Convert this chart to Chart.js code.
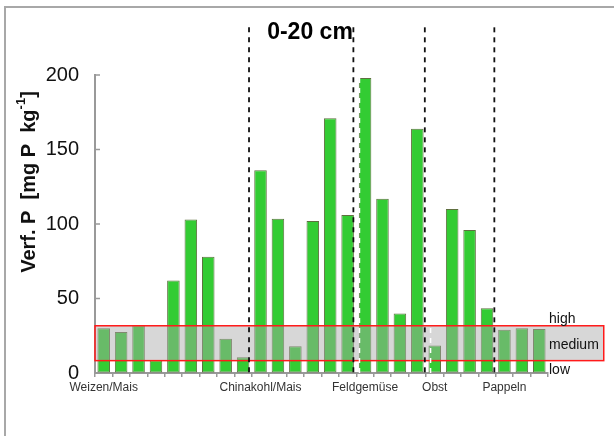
<!DOCTYPE html>
<html>
<head>
<meta charset="utf-8">
<script src="https://cdn.jsdelivr.net/npm/chart.js@4/dist/chart.umd.min.js"></script>
<style>
  html, body { margin: 0; padding: 0; background: #fff; }
  #wrap { width: 614px; height: 436px; position: relative; }
</style>
</head>
<body>
<div id="wrap"><canvas id="pChart" width="614" height="436"></canvas></div>
<script>
// group label sits under the first bar of each group
const categories = [
  'Weizen/Mais', '', '', '', '', '', '', '', '',
  'Chinakohl/Mais', '', '', '', '', '',
  'Feldgemüse', '', '', '',
  'Obst', '', '', '',
  'Pappeln', '', ''
];
const pValues = [
  30, 27.5, 32, 8.5, 62, 103, 78, 23, 10.5,
  136, 103.5, 18, 102, 171, 106,
  198, 117, 40, 164,
  18.5, 110, 96, 43.5,
  29, 30, 29.5
];
const yTicks = [0, 50, 100, 150, 200];

// medium range band (mg P / kg)
const bandLow = 8.3;
const bandHigh = 31.7;
const bandLabels = [
  { text: 'high', value: 36 },
  { text: 'medium', value: 18.5 },
  { text: 'low', value: 2 }
];

// group separators, in category index units
const dividers = [8.34, 14.33, 18.43, 22.42];
const whiteDividers = [14.68, 18.76];

const FONT = '"Liberation Sans", Arial, sans-serif';

const decorPlugin = {
  id: 'decor',
  beforeDraw(chart) {
    const c = chart.ctx;
    c.save();
    c.strokeStyle = '#a8a8a8';
    c.lineWidth = 2;
    c.beginPath();
    c.moveTo(5, 436);
    c.lineTo(5, 7);
    c.lineTo(614, 7);
    c.stroke();
    c.restore();
  },
  afterDatasetsDraw(chart) {
    const c = chart.ctx;
    const x = chart.scales.x;
    const y = chart.scales.y;
    const area = chart.chartArea;

    // medium band
    const top = y.getPixelForValue(bandHigh);
    const bot = y.getPixelForValue(bandLow);
    const right = x.getPixelForValue(28.7);
    c.save();
    c.fillStyle = 'rgba(168,168,168,0.46)';
    c.fillRect(area.left, top, right - area.left, bot - top);
    c.strokeStyle = '#ff1a1a';
    c.lineWidth = 1.5;
    c.strokeRect(area.left, top, right - area.left, bot - top);

    // band labels
    c.fillStyle = '#111';
    c.font = '14px ' + FONT;
    c.textAlign = 'left';
    c.textBaseline = 'middle';
    bandLabels.forEach(b => c.fillText(b.text, area.right + 1, y.getPixelForValue(b.value)));

    // white dashes over bars
    c.setLineDash([5, 5]);
    c.strokeStyle = '#ffffff';
    c.lineWidth = 1.5;
    whiteDividers.forEach(v => {
      const px = x.getPixelForValue(v);
      c.beginPath();
      c.moveTo(px, y.getPixelForValue(198));
      c.lineTo(px, area.bottom);
      c.stroke();
    });

    // black dashed separators
    c.strokeStyle = '#111';
    c.lineWidth = 1.8;
    dividers.forEach(v => {
      const px = x.getPixelForValue(v);
      c.beginPath();
      c.moveTo(px, y.getPixelForValue(232));
      c.lineTo(px, area.bottom);
      c.stroke();
    });
    c.setLineDash([]);

    // y ticks pointing inwards
    c.strokeStyle = '#999';
    c.lineWidth = 1.5;
    yTicks.forEach(t => {
      const py = y.getPixelForValue(t);
      c.beginPath();
      c.moveTo(area.left, py);
      c.lineTo(area.left + 5, py);
      c.stroke();
    });

    // title
    c.fillStyle = '#000';
    c.font = 'bold 23px ' + FONT;
    c.textAlign = 'center';
    c.textBaseline = 'middle';
    c.fillText('0-20 cm', 310, 33);

    // y axis title with superscript
    c.translate(29, 182);
    c.rotate(-Math.PI / 2);
    const main = 'bold 20px ' + FONT;
    const sup = 'bold 13px ' + FONT;
    const parts = [
      { t: 'Verf. P  [mg P  kg', f: main, dy: 0 },
      { t: '-1', f: sup, dy: -8 },
      { t: ']', f: main, dy: 0 }
    ];
    let total = 0;
    parts.forEach(p => { c.font = p.f; p.w = c.measureText(p.t).width; total += p.w; });
    let cx = -total / 2;
    c.textAlign = 'left';
    c.fillStyle = '#111';
    parts.forEach(p => {
      c.font = p.f;
      c.fillText(p.t, cx, p.dy);
      cx += p.w;
    });
    c.restore();
  }
};

new Chart(document.getElementById('pChart'), {
  type: 'bar',
  data: {
    labels: categories,
    datasets: [{
      data: pValues,
      backgroundColor: '#33cc33',
      borderColor: '#5f7040',
      borderWidth: 1,
      borderSkipped: false,
      barPercentage: 0.72,
      categoryPercentage: 1
    }]
  },
  options: {
    responsive: false,
    animation: false,
    devicePixelRatio: 1,
    layout: { padding: { left: 0, top: 75, right: 66, bottom: 0 } },
    plugins: {
      legend: { display: false },
      tooltip: { enabled: false }
    },
    scales: {
      x: {
        grid: { drawOnChartArea: false, drawTicks: true, tickLength: 4, color: '#999', lineWidth: 1.5 },
        border: { color: '#999', width: 2 },
        ticks: {
          autoSkip: false,
          maxRotation: 0,
          padding: 3,
          color: '#333',
          font: { family: FONT, size: 12 }
        },
        afterFit: s => { s.height = 63; }
      },
      y: {
        min: 0,
        max: 200,
        afterBuildTicks: s => { s.ticks = yTicks.map(v => ({ value: v })); },
        grid: { drawOnChartArea: false, drawTicks: false },
        border: { color: '#999', width: 2 },
        ticks: {
          padding: 16,
          color: '#111',
          font: { family: FONT, size: 20 }
        },
        afterFit: s => { s.width = 95; }
      }
    }
  },
  plugins: [decorPlugin]
});
</script>
</body>
</html>
